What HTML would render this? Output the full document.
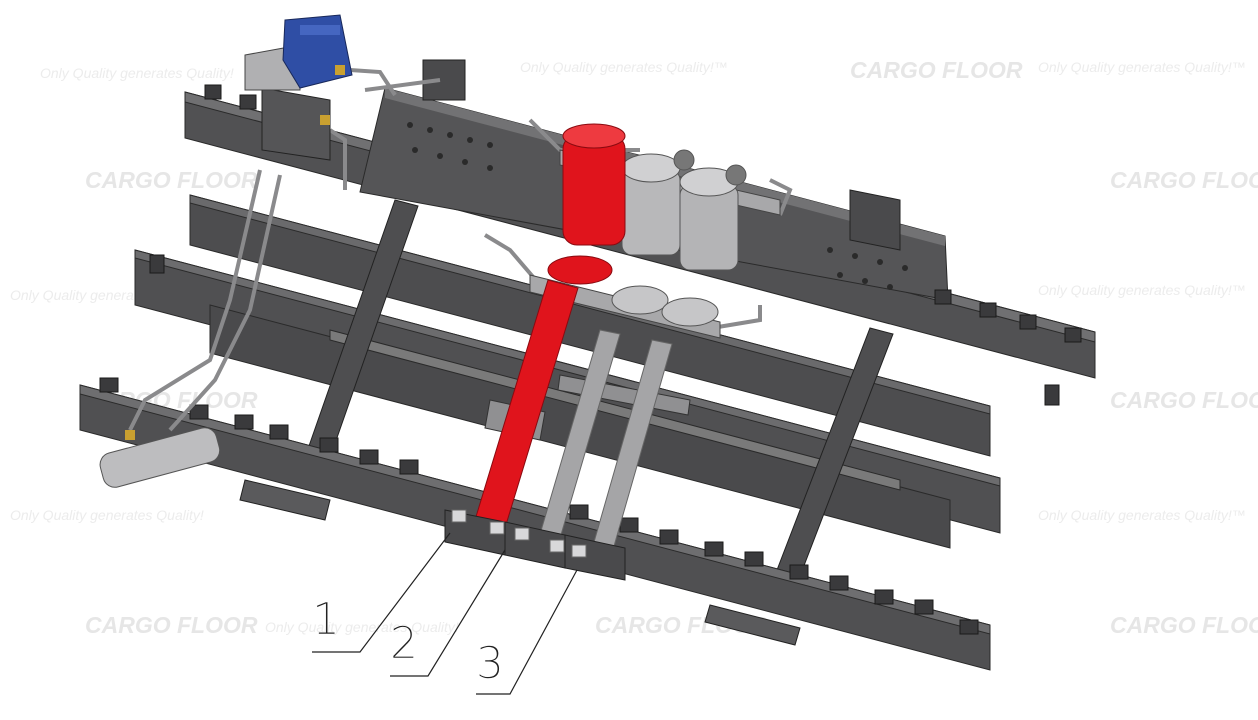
<!DOCTYPE html>
<html><head><meta charset="utf-8"><style>
html,body{margin:0;padding:0;background:#fff;}
svg{display:block;}
.wm{font-family:"Liberation Sans",sans-serif;font-style:italic;fill:#ececec;}
.cf{font-family:"Liberation Sans",sans-serif;font-weight:bold;font-style:italic;fill:#e6e6e6;font-size:23px;}
.lbl{font-family:"DejaVu Sans","Liberation Sans",sans-serif;font-weight:200;font-size:44px;fill:#222;}
</style></head><body>
<svg width="1258" height="720" viewBox="0 0 1258 720" xmlns="http://www.w3.org/2000/svg">
<g>
<text class="wm" x="40" y="78" font-size="14">Only Quality generates Quality!</text>
<text class="wm" x="520" y="72" font-size="14">Only Quality generates Quality!™</text>
<text class="wm" x="1038" y="72" font-size="14">Only Quality generates Quality!™</text>
<text class="cf" x="850" y="78">CARGO FLOOR</text>
<text class="cf" x="85" y="188">CARGO FLOOR</text>
<text class="cf" x="1110" y="188">CARGO FLOOR</text>
<text class="wm" x="10" y="300" font-size="14">Only Quality generates Quality!</text>
<text class="wm" x="1038" y="295" font-size="14">Only Quality generates Quality!™</text>
<text class="cf" x="85" y="408">CARGO FLOOR</text>
<text class="cf" x="1110" y="408">CARGO FLOOR</text>
<text class="wm" x="10" y="520" font-size="14">Only Quality generates Quality!</text>
<text class="wm" x="1038" y="520" font-size="14">Only Quality generates Quality!™</text>
<text class="cf" x="85" y="633">CARGO FLOOR</text>
<text class="cf" x="595" y="633">CARGO FLOOR</text>
<text class="cf" x="1110" y="633">CARGO FLOOR</text>
<text class="wm" x="265" y="632" font-size="14">Only Quality generates Quality!</text>
</g>

<g stroke="#2a2a2a" stroke-width="1">
<polygon points="190,195 990,406 990,456 190,245" fill="#4d4d4f"/>
<polygon points="190,195 990,406 990,414 190,203" fill="#6a6a6c"/>
<polygon points="135,250 1000,478 1000,533 135,305" fill="#505052"/>
<polygon points="135,250 1000,478 1000,486 135,258" fill="#6c6c6e"/>
<polygon points="210,305 950,500 950,548 210,353" fill="#4a4a4c"/>
<polygon points="330,330 900,480 900,490 330,340" fill="#7a7a7a"/>
</g>

<g stroke="#2a2a2a">
<polygon points="185,92 1095,332 1095,378 185,138" fill="#515153"/>
<polygon points="185,92 1095,332 1095,342 185,102" fill="#707072"/>
</g>

<polygon points="385,88 945,236 948,300 360,192" fill="#555557" stroke="#2a2a2a"/>
<polygon points="385,88 945,236 945,246 385,98" fill="#727274"/>
<rect x="423" y="60" width="42" height="40" fill="#4a4a4c" stroke="#222"/>
<polygon points="850,190 900,200 900,250 850,240" fill="#4a4a4c" stroke="#222"/>
<g fill="#2a2a2a">
<circle cx="410" cy="125" r="3"/><circle cx="430" cy="130" r="3"/><circle cx="450" cy="135" r="3"/><circle cx="470" cy="140" r="3"/><circle cx="490" cy="145" r="3"/>
<circle cx="415" cy="150" r="3"/><circle cx="440" cy="156" r="3"/><circle cx="465" cy="162" r="3"/><circle cx="490" cy="168" r="3"/>
<circle cx="830" cy="250" r="3"/><circle cx="855" cy="256" r="3"/><circle cx="880" cy="262" r="3"/><circle cx="905" cy="268" r="3"/>
<circle cx="840" cy="275" r="3"/><circle cx="865" cy="281" r="3"/><circle cx="890" cy="287" r="3"/>
</g>

<polygon points="395,200 418,206 325,472 302,466" fill="#4e4e50" stroke="#222"/>
<polygon points="870,328 893,334 790,602 767,596" fill="#4e4e50" stroke="#222"/>

<g stroke="#2a2a2a">
<polygon points="80,385 990,625 990,670 80,430" fill="#505052"/>
<polygon points="80,385 990,625 990,634 80,394" fill="#6e6e70"/>
</g>
<polygon points="245,480 330,500 325,520 240,500" fill="#5a5a5c" stroke="#222"/>
<polygon points="710,605 800,628 795,645 705,622" fill="#5a5a5c" stroke="#222"/>
<g fill="#3a3a3c" stroke="#1a1a1a">
<rect x="100" y="378" width="18" height="14"/><rect x="190" y="405" width="18" height="14"/><rect x="235" y="415" width="18" height="14"/>
<rect x="270" y="425" width="18" height="14"/><rect x="320" y="438" width="18" height="14"/><rect x="360" y="450" width="18" height="14"/>
<rect x="400" y="460" width="18" height="14"/><rect x="570" y="505" width="18" height="14"/><rect x="620" y="518" width="18" height="14"/>
<rect x="660" y="530" width="18" height="14"/><rect x="705" y="542" width="18" height="14"/><rect x="745" y="552" width="18" height="14"/>
<rect x="790" y="565" width="18" height="14"/><rect x="830" y="576" width="18" height="14"/><rect x="875" y="590" width="18" height="14"/>
<rect x="915" y="600" width="18" height="14"/><rect x="960" y="620" width="18" height="14"/>
<rect x="205" y="85" width="16" height="14"/><rect x="240" y="95" width="16" height="14"/>
<rect x="935" y="290" width="16" height="14"/><rect x="980" y="303" width="16" height="14"/><rect x="1020" y="315" width="16" height="14"/><rect x="1065" y="328" width="16" height="14"/>
<rect x="150" y="255" width="14" height="18"/><rect x="1045" y="385" width="14" height="20"/>
</g>

<g fill="none" stroke="#8a8a8c" stroke-width="4">
<path d="M350,70 L380,72 L395,95"/>
<path d="M365,90 L440,80"/>
<path d="M260,170 L230,300 L210,360 L145,400 L130,430"/>
<path d="M280,175 L250,310 L215,380 L170,430"/>
<path d="M330,130 L345,140 L345,190"/>
<path d="M530,120 L560,150 L640,150"/>
<path d="M770,180 L790,190 L780,215"/>
<path d="M485,235 L510,250 L540,285"/>
<path d="M700,330 L760,320 L760,305"/>
</g>

<polygon points="262,88 330,100 330,160 262,150" fill="#555557" stroke="#222"/>
<polygon points="245,55 300,45 300,90 245,90" fill="#b0b0b2" stroke="#444"/>
<polygon points="285,20 340,15 352,75 300,88 283,60" fill="#2f4ea5" stroke="#18285a"/>
<rect x="300" y="25" width="40" height="10" fill="#4566c0"/>
<rect x="335" y="65" width="10" height="10" fill="#c9a030"/>
<rect x="320" y="115" width="10" height="10" fill="#c9a030"/>

<rect x="100" y="440" width="120" height="35" rx="12" fill="#bdbdbf" stroke="#555" transform="rotate(-15 160 458)"/>
<rect x="125" y="430" width="10" height="10" fill="#c9a030"/>

<polygon points="560,150 780,200 780,215 560,165" fill="#a8a8aa" stroke="#444"/>
<polygon points="530,275 720,322 720,338 530,292" fill="#a8a8aa" stroke="#444"/>
<polygon points="490,400 545,412 540,440 485,428" fill="#909092" stroke="#333"/>
<polygon points="560,375 690,400 688,415 558,390" fill="#909092" stroke="#333"/>

<g stroke="#555">
<rect x="622" y="170" width="58" height="85" rx="10" fill="#b8b8ba"/>
<rect x="680" y="185" width="58" height="85" rx="10" fill="#b4b4b6"/>
<ellipse cx="651" cy="168" rx="29" ry="14" fill="#d0d0d2"/>
<ellipse cx="709" cy="182" rx="29" ry="14" fill="#d0d0d2"/>
<circle cx="684" cy="160" r="10" fill="#777"/><circle cx="736" cy="175" r="10" fill="#777"/>
<ellipse cx="640" cy="300" rx="28" ry="14" fill="#c6c6c8"/>
<ellipse cx="690" cy="312" rx="28" ry="14" fill="#c6c6c8"/>
</g>
<g stroke="#666" stroke-width="1">
<polygon points="600,330 620,334 558,545 538,541" fill="#a5a5a7"/>
<polygon points="652,340 672,344 610,560 590,556" fill="#a5a5a7"/>
</g>

<rect x="563" y="135" width="62" height="110" rx="14" fill="#e0141c" stroke="#8a0a10"/>
<ellipse cx="594" cy="136" rx="31" ry="12" fill="#ee3a40" stroke="#8a0a10"/>
<ellipse cx="580" cy="270" rx="32" ry="14" fill="#e0141c" stroke="#8a0a10"/>
<polygon points="548,280 578,288 505,528 475,520" fill="#e0141c" stroke="#8a0a10"/>

<g fill="#4a4a4c" stroke="#222">
<polygon points="445,510 505,522 505,555 445,542"/>
<polygon points="505,522 565,535 565,568 505,555"/>
<polygon points="565,535 625,548 625,580 565,568"/>
</g>
<g fill="#d8d8da" stroke="#666">
<rect x="452" y="510" width="14" height="12"/><rect x="490" y="522" width="14" height="12"/>
<rect x="515" y="528" width="14" height="12"/><rect x="550" y="540" width="14" height="12"/>
<rect x="572" y="545" width="14" height="12"/>
</g>

<g stroke="#222" stroke-width="1.2" fill="none">
<polyline points="312,652 360,652 450,533"/>
<polyline points="390,676 428,676 505,550"/>
<polyline points="476,694 510,694 577,570"/>
</g>
<text class="lbl" x="312" y="634" stroke="#fff" stroke-width="0.6">1</text>
<text class="lbl" x="390" y="658" stroke="#fff" stroke-width="0.6">2</text>
<text class="lbl" x="476" y="678" stroke="#fff" stroke-width="0.6">3</text>
</svg>
</body></html>
